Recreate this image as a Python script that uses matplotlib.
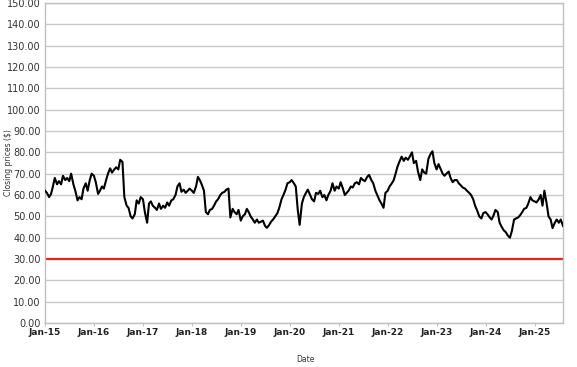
import matplotlib
matplotlib.use("Agg")
import matplotlib.pyplot as plt
import matplotlib.dates as mdates
from matplotlib.ticker import MultipleLocator, FormatStrFormatter
import pandas as pd

prices_2015 = [62, 61, 59, 60.5, 64, 68, 65, 66.5, 65, 69, 67, 68,
               66.5, 70, 65, 62, 57.5, 59, 58, 63, 65.5, 62, 67, 70]
prices_2016 = [69, 66, 60.5, 62, 64, 63, 67, 70, 72.5, 70.5, 72, 73,
               72, 76.5, 75.5, 59, 55, 54, 50, 49, 51, 57.5, 56, 59]
prices_2017 = [58, 52, 47, 56, 57, 55, 54, 53, 56, 53.5, 55, 54,
               56.5, 55, 57.5, 58, 60, 64, 65.5, 61.5, 62.5, 61, 62, 63]
prices_2018 = [62, 61, 64, 68.5, 67, 65, 62, 52, 51, 53, 53.5, 55,
               57, 58, 60, 61, 61.5, 62.5, 63, 49.5, 53.5, 52, 51, 53]
prices_2019 = [48, 50, 51, 53.5, 52, 50, 48.5, 47, 48.5, 47, 47.5, 48,
               45.5, 44.6, 46, 47.5, 48.7, 50, 51.5, 54, 58, 60, 62.5, 65.5]
prices_2020 = [66, 67, 65.5, 64, 53, 46, 56, 59, 61, 62.5, 60, 58,
               57, 61, 60.5, 62, 59, 60, 57.5, 60, 62, 65.5, 62, 64]
prices_2021 = [63, 66, 63, 60, 61, 62, 64, 63.5, 65.5, 66, 65, 68,
               67, 66.5, 68.5, 69.4, 67, 65.5, 62, 60, 57.5, 56, 54, 61]
prices_2022 = [62, 64, 65.5, 67, 70, 73.3, 76, 78, 76, 77.5, 76.5, 78,
               80, 75, 76, 71, 67, 72, 70.5, 70, 77, 79, 80.5, 75]
prices_2023 = [72, 74.5, 72, 70, 69, 70, 71, 68, 66, 67, 67, 65.5,
               64.5, 63.5, 63, 62, 61, 60, 58, 55, 52.5, 50, 49, 51.5]
prices_2024 = [52, 51, 49.5, 48.5, 50.5, 53, 52, 47, 45, 43.5, 42.5, 41,
               40, 43, 48.5, 49, 49.5, 50.5, 52, 53.5, 54, 56, 59, 57.5]
prices_2025 = [57, 56.5, 58, 60, 55, 62, 56, 50, 48.5, 44.5, 47, 48.5,
               47, 48.5, 45.5]

prices = (prices_2015 + prices_2016 + prices_2017 + prices_2018 + prices_2019
          + prices_2020 + prices_2021 + prices_2022 + prices_2023 + prices_2024
          + prices_2025)
dates = pd.date_range("2015-01-01", periods=len(prices), freq="SMS")

threshold = 30

fig = plt.figure(figsize=(5.77, 3.67), dpi=100)
ax = fig.add_axes([45 / 577, 44 / 367, 518 / 577, 320 / 367])

ax.plot(dates, prices, color="black", linewidth=1.5, zorder=3)
ax.axhline(threshold, color="#e3261b", linewidth=1.6, zorder=2)

ax.set_ylim(0, 150)
ax.set_xlim(dates[0], dates[-1])
ax.yaxis.set_major_locator(MultipleLocator(10))
ax.yaxis.set_major_formatter(FormatStrFormatter("%.2f"))
ax.xaxis.set_major_locator(mdates.YearLocator())
ax.xaxis.set_major_formatter(mdates.DateFormatter("%b-%y"))

ax.grid(axis="y", color="#c8c8c8", linewidth=1)
ax.set_axisbelow(True)
for side in ["left", "right", "top", "bottom"]:
    ax.spines[side].set_color("#c0c0c0")
    ax.spines[side].set_linewidth(1)

ax.tick_params(axis="y", length=0, pad=3, labelsize=7, labelcolor="#333333")
ax.tick_params(axis="x", length=2, color="#c0c0c0", pad=1.5, labelsize=6.5, labelcolor="#222222")
for lbl in ax.get_xticklabels():
    lbl.set_fontweight("bold")

ax.set_ylabel("Closing prices ($)", fontsize=5.5, color="#333333")
ax.yaxis.set_label_coords(-0.062, 0.5)
ax.set_xlabel("Date", fontsize=5.5, color="#333333")
ax.xaxis.set_label_coords(0.502, -0.1)

fig.savefig("out.png", dpi=100)
